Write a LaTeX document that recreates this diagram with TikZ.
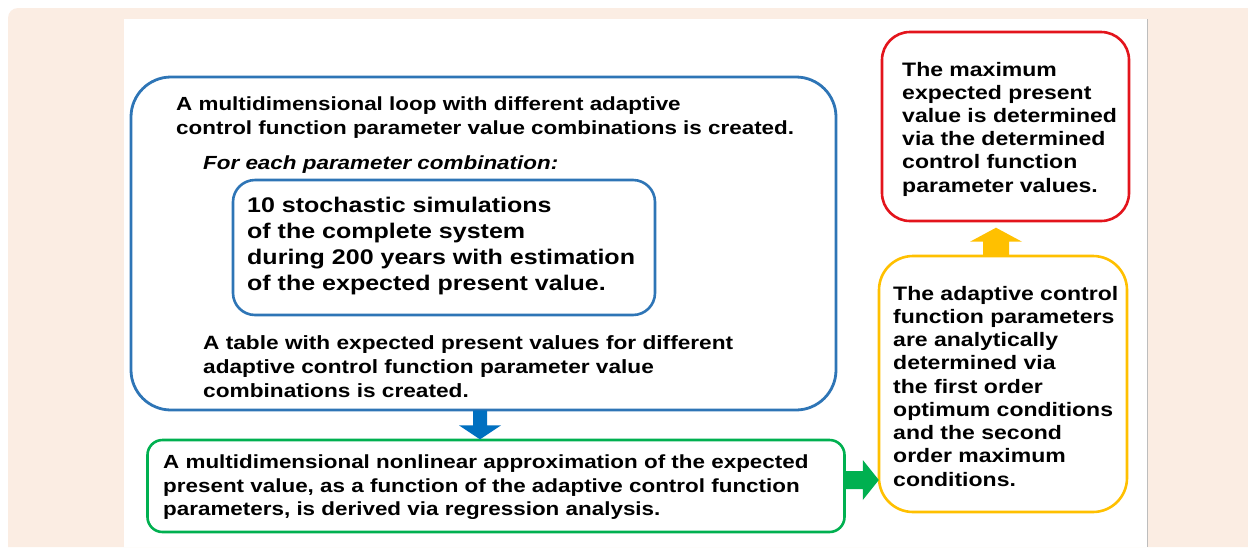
\documentclass[tikz,border=0pt]{standalone}
\usepackage{fontspec}
\setmainfont{Liberation Sans}[FakeStretch=1.18]
\usetikzlibrary{calc}
\definecolor{pagebg}{HTML}{FBEDE3}
\definecolor{panelline}{HTML}{BDBDBD}
\definecolor{loopblue}{HTML}{2E75B6}
\definecolor{arrowblue}{HTML}{0070C0}
\definecolor{regreen}{HTML}{00B050}
\definecolor{maxred}{HTML}{E3141C}
\definecolor{condyellow}{HTML}{FFC000}
\tikzset{
  x=1pt, y=-1pt,
  box/.style={draw, line width=2.6pt, fill=white, inner sep=0pt},
  % multi-line texts: the base anchor sits on the last line
  txt/.style={anchor=base west, align=left, inner sep=0pt, font=\bfseries},
}
\newcommand{\fsz}[2]{\fontsize{#1}{#2}\selectfont}
\begin{document}
\begin{tikzpicture}
\useasboundingbox (0,0) rectangle (1248,547);
% page background and white panel
\fill[white] (0,0) rectangle (1248,547);
\fill[pagebg] (8,547) [rounded corners=10pt] -- (8,8) [sharp corners] -- (1248,8) -- (1248,547) -- cycle;
\fill[white] (124,19) rectangle (1147,547);
\draw[panelline, line width=0.8pt] (1147,19) -- (1147,547);

% boxes
\node[box, draw=loopblue, line width=2.8pt, rounded corners=40pt, minimum width=705pt, minimum height=333pt] (loop) at (483.5,243.5) {};
\node[box, draw=loopblue, rounded corners=22pt, minimum width=422pt, minimum height=135pt] (sim) at (444,247.5) {};
\node[box, draw=regreen, rounded corners=15pt, minimum width=697pt, minimum height=92pt] (approx) at (496,486) {};
\node[box, draw=maxred, rounded corners=28pt, minimum width=247pt, minimum height=189pt] (maxval) at (1005.5,126.5) {};
\node[box, draw=condyellow, rounded corners=34pt, minimum width=248pt, minimum height=256pt] (cond) at (1003,384) {};

% texts
\node[txt, font=\bfseries\fsz{19}{23.5}] (looptxt) at (176,134.2)
  {A multidimensional loop with different adaptive\\control function parameter value combinations is created.};
\node[txt, font=\bfseries\itshape\fsz{19}{23.5}] (eachtxt) at (203,169.7)
  {For each parameter combination:};
\node[txt, font=\bfseries\fsz{21.2}{26}] (simtxt) at (247,290)
  {10 stochastic simulations\\of the complete system\\during 200 years with estimation\\of the expected present value.};
\node[txt, font=\bfseries\fsz{19.2}{24}] (tabletxt) at (203,397.7)
  {A table with expected present values for different\\adaptive control function parameter value\\combinations is created.};
\node[txt, font=\bfseries\fsz{19}{23.5}] (approxtxt) at (163,515.7)
  {A multidimensional nonlinear approximation of the expected\\present value, as a function of the adaptive control function\\parameters, is derived via regression analysis.};
\node[txt, font=\bfseries\fsz{19.5}{23.2}] (maxtxt) at (902,192)
  {The maximum\\expected present\\value is determined\\via the determined\\control function\\parameter values.};
\node[txt, font=\bfseries\fsz{19.5}{23.25}] (condtxt) at (893,486)
  {The adaptive control\\function parameters\\are analytically\\determined via\\the first order\\optimum conditions\\and the second\\order maximum\\conditions.};

% block arrows between the boxes
\coordinate (bx) at (480,0);
\fill[arrowblue] (bx |- loop.south) +(-7,-1) -- +(-7,14) -- +(-21,14) -- +(0,28) -- +(21,14) -- +(7,14) -- +(7,-1) -- cycle;
\coordinate (gy) at (0,480);
\fill[regreen] (approx.east |- gy) +(-1,-9) -- +(17,-9) -- +(17,-20) -- +(33,0) -- +(17,20) -- +(17,9) -- +(-1,9) -- cycle;
\coordinate (yx) at (996,0);
\fill[condyellow] (yx |- cond.north) +(-13,1) -- +(-13,-13) -- +(-26,-13) -- +(0,-27) -- +(26,-13) -- +(13,-13) -- +(13,1) -- cycle;
\end{tikzpicture}
\end{document}
